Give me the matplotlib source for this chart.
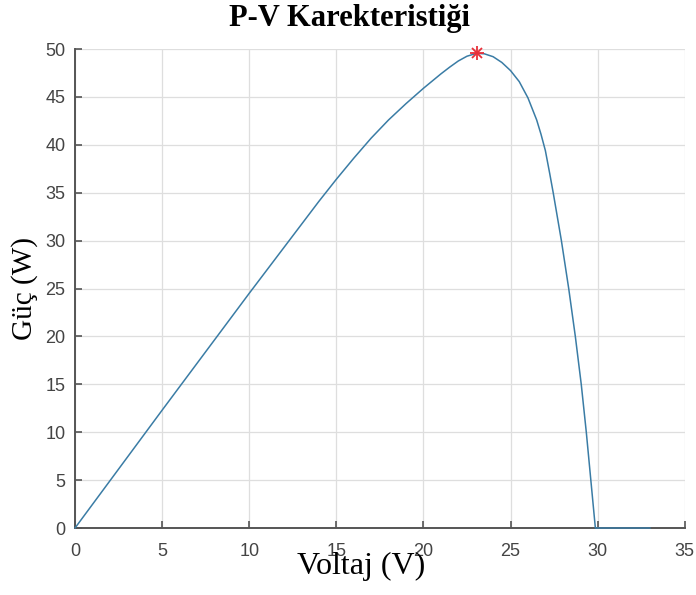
import matplotlib
matplotlib.use("Agg")
import matplotlib.pyplot as plt

voltage = [0, 5, 10, 12.5, 14, 15, 16, 17, 18, 19, 20, 21, 21.5, 22, 22.5,
           23.05, 23.5, 24, 24.5, 25, 25.5, 26, 26.5, 26.75, 27, 27.25, 27.45, 27.92, 28.34,
           28.72, 29.06, 29.35, 29.61, 29.87, 31.5, 33]
power = [0, 12.3, 24.5, 30.5, 34.1, 36.4, 38.6, 40.7, 42.6, 44.3, 45.9, 47.4, 48.1, 48.75, 49.25,
         49.55, 49.5, 49.2, 48.6, 47.75, 46.6, 44.9, 42.6, 41.1, 39.4, 37.0, 35.0, 30, 25,
         20, 15, 10, 5, 0, 0, 0]
mpp_v = [23.05]
mpp_p = [49.55]

x_ticks = [0, 5, 10, 15, 20, 25, 30, 35]
y_ticks = [0, 5, 10, 15, 20, 25, 30, 35, 40, 45, 50]

fig = plt.figure(figsize=(6.96, 5.95), dpi=100)
ax = fig.add_axes([0.1078, 0.1126, 0.876, 0.805])

ax.plot(voltage, power, color='#3a7ca5', lw=1.1, zorder=3, clip_on=False)
# MATLAB-style asterisk marker: a plus and a cross drawn together
ax.plot(mpp_v, mpp_p, marker='+', color='#e8303a', markersize=10, mew=1.3, ls='none',
        zorder=4, clip_on=False)
ax.plot(mpp_v, mpp_p, marker='x', color='#e8303a', markersize=7.5, mew=1.3, ls='none',
        zorder=4, clip_on=False)

ax.set_xlim(0, 35)
ax.set_ylim(0, 50)
ax.set_xticks(x_ticks)
ax.set_yticks(y_ticks)
ax.grid(True, color='#dedede', lw=0.9)
ax.set_axisbelow(True)

for s in ['top', 'right']:
    ax.spines[s].set_visible(False)
for s in ['left', 'bottom']:
    ax.spines[s].set_color('#555555')
    ax.spines[s].set_linewidth(1.4)

tick_font = ['Liberation Sans', 'DejaVu Sans']
ax.tick_params(direction='in', length=5, width=1.2, color='#555555',
               labelcolor='#444444', labelsize=13)
ax.tick_params(axis='x', pad=11)
ax.tick_params(axis='y', pad=7)
for lab in ax.get_xticklabels() + ax.get_yticklabels():
    lab.set_family(tick_font)

serif = ['Liberation Serif', 'DejaVu Serif']
fig.text(0.5024, 1 - 26 / 595, 'P-V Karekteristiği', family=serif, fontweight='bold',
         fontsize=22, ha='center', va='baseline')
ax.set_xlabel('Voltaj (V)', family=serif, fontsize=23)
ax.xaxis.set_label_coords(0.47, -0.05)
ax.set_ylabel('Güç (W)', family=serif, fontsize=21)
ax.yaxis.set_label_coords(-0.06, 0.5)

fig.savefig('out.png', dpi=100)
